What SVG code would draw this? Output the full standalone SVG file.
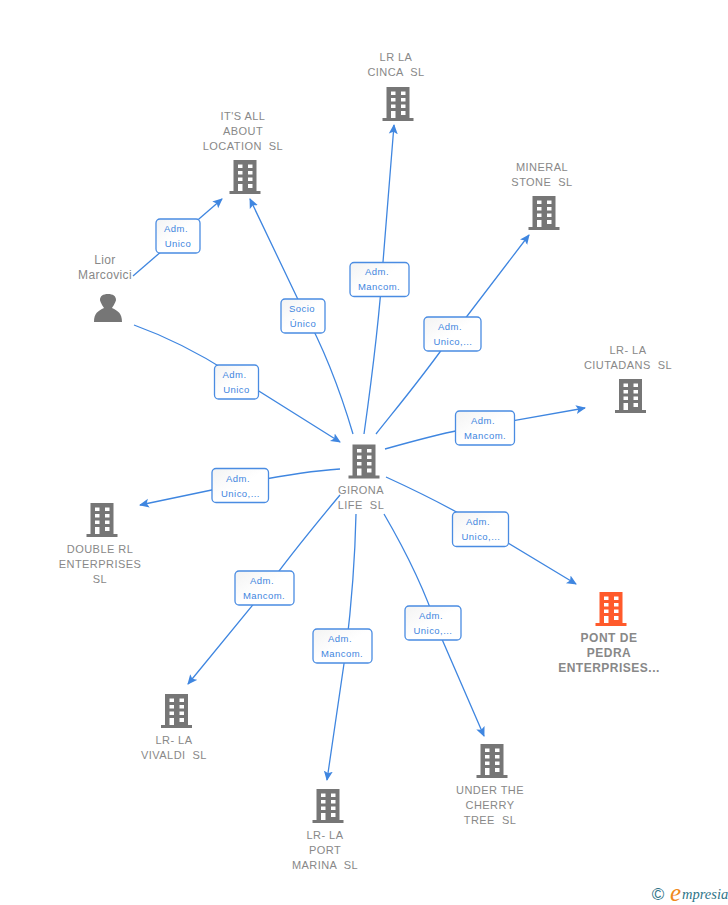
<svg xmlns="http://www.w3.org/2000/svg" width="728" height="905" viewBox="0 0 728 905">
<style>
.n{font-family:"Liberation Sans",Arial,sans-serif;font-size:11px;fill:#888;text-anchor:middle;letter-spacing:.45px;white-space:pre}
.b{font-weight:bold;font-size:12px;letter-spacing:.5px}
.p{font-size:12px;letter-spacing:.35px}
.l{font-family:"Liberation Sans",Arial,sans-serif;font-size:9.5px;fill:#3f86e0;text-anchor:middle;letter-spacing:.45px}
.r{fill:url(#g);stroke:#4a8ce2;stroke-width:1.3}
.c{fill:none;stroke:#3f86e0;stroke-width:1.3;marker-end:url(#a)}
</style>
<defs>
<linearGradient id="g" x1="0" y1="0" x2="1" y2="1"><stop offset="0" stop-color="#f3f3f3"/><stop offset=".5" stop-color="#fff"/></linearGradient>
<marker id="a" markerUnits="userSpaceOnUse" markerWidth="12" markerHeight="12" refX="9" refY="5" orient="auto"><path d="M0 0.500L10 5L0 9.500L2.200 5Z" fill="#3f86e0"/></marker>
<path id="bd" fill-rule="evenodd" d="M4 0H27V31H31V34H0V31H4ZM8.500 4.500V8H13V4.500ZM18.500 4.500V8H23V4.500ZM8.500 11V14.500H13V11ZM18.500 11V14.500H23V11ZM8.500 17.500V21H13V17.500ZM18.500 17.500V21H23V17.500ZM8.500 24V31H13V24ZM18.500 24V28H23V24Z"/>
</defs>
<g id="connectors">
<path class="c" d="M133 276L222 199"/>
<path class="c" d="M134 325C170 338 205 357 230 373L340 442"/>
<path class="c" d="M353 434C340 390 325 350 303 310L250 199"/>
<path class="c" d="M364 434C373 370 380 310 383 262L394 125"/>
<path class="c" d="M376 434C395 410 420 380 445 345L529 235"/>
<path class="c" d="M385 449C410 442 435 435 460 430L585 408"/>
<path class="c" d="M386 477C410 488 435 500 460 514L576 584"/>
<path class="c" d="M384 514C405 550 425 590 438 630L484 736"/>
<path class="c" d="M356 514C355 560 352 600 346 650L327 780"/>
<path class="c" d="M340 495C315 525 290 555 265 590L188 684"/>
<path class="c" d="M340 469C310 471 285 475 250 482L140 505"/>
</g>
<g id="edge-labels">
<g><rect class="r" x="156" y="219" width="44" height="34" rx="4"/><text class="l" x="176" y="232">Adm.</text><text class="l" x="178" y="247">Unico</text></g>
<g><rect class="r" x="214.500" y="365" width="44" height="34" rx="4"/><text class="l" x="234.500" y="378">Adm.</text><text class="l" x="236.500" y="393">Unico</text></g>
<g><rect class="r" x="281" y="299" width="44" height="34" rx="4"/><text class="l" x="302" y="312">Socio</text><text class="l" x="303" y="327">Único</text></g>
<g><rect class="r" x="350" y="262.500" width="59" height="34" rx="4"/><text class="l" x="377" y="275">Adm.</text><text class="l" x="379" y="290">Mancom.</text></g>
<g><rect class="r" x="424" y="317" width="57" height="34" rx="4"/><text class="l" x="450" y="330">Adm.</text><text class="l" x="453" y="345">Unico,...</text></g>
<g><rect class="r" x="455.500" y="411" width="59" height="34" rx="4"/><text class="l" x="483" y="424">Adm.</text><text class="l" x="485" y="439">Mancom.</text></g>
<g><rect class="r" x="452.500" y="512" width="56" height="34.500" rx="4"/><text class="l" x="478" y="525">Adm.</text><text class="l" x="481" y="540">Unico,...</text></g>
<g><rect class="r" x="405" y="606" width="56" height="34" rx="4"/><text class="l" x="431" y="619">Adm.</text><text class="l" x="433" y="634">Unico,...</text></g>
<g><rect class="r" x="313" y="629" width="59" height="34" rx="4"/><text class="l" x="340" y="642">Adm.</text><text class="l" x="342" y="657">Mancom.</text></g>
<g><rect class="r" x="235" y="571" width="59" height="34" rx="4"/><text class="l" x="262" y="584">Adm.</text><text class="l" x="264" y="599">Mancom.</text></g>
<g><rect class="r" x="212" y="468.500" width="56.500" height="34" rx="4"/><text class="l" x="238" y="482">Adm.</text><text class="l" x="240.500" y="497">Unico,...</text></g>
</g>
<g id="n-cinca"><use href="#bd" x="382.500" y="87" fill="#767676"/><text class="n" x="396" y="61">LR LA</text><text class="n" x="396" y="76">CINCA  SL</text></g>
<g id="n-itsall"><use href="#bd" x="229.500" y="160" fill="#767676"/><text class="n" x="243" y="120">IT'S ALL</text><text class="n" x="243" y="135">ABOUT</text><text class="n" x="243" y="150">LOCATION  SL</text></g>
<g id="n-mineral"><use href="#bd" x="528.500" y="196" fill="#767676"/><text class="n" x="542" y="171">MINERAL</text><text class="n" x="542" y="186">STONE  SL</text></g>
<g id="n-lior"><path fill="#767676" d="M94 322C94 313 98 311 104 308C102 305 100 301 100 300C100 296 103 294 108 294C113 294 116 296 116 300C116 301 114 305 112 308C118 311 122 313 122 322Z"/><text class="n p" x="105" y="264">Lior</text><text class="n p" x="105" y="279">Marcovici</text></g>
<g id="n-ciutadans"><use href="#bd" x="615" y="379" fill="#767676"/><text class="n" x="628" y="354">LR- LA</text><text class="n" x="628" y="369">CIUTADANS  SL</text></g>
<g id="n-girona"><use href="#bd" x="348.500" y="444.500" fill="#767676"/><text class="n" x="361" y="494">GIRONA</text><text class="n" x="361" y="509">LIFE  SL</text></g>
<g id="n-double"><use href="#bd" x="86.500" y="503" fill="#767676"/><text class="n" x="100" y="553">DOUBLE RL</text><text class="n" x="100" y="568">ENTERPRISES</text><text class="n" x="100" y="583">SL</text></g>
<g id="n-pont"><use href="#bd" x="595.500" y="592" fill="#ff5a2b"/><text class="n b" x="609" y="642">PONT DE</text><text class="n b" x="609" y="657">PEDRA</text><text class="n b" x="609" y="672">ENTERPRISES...</text></g>
<g id="n-vivaldi"><use href="#bd" x="161" y="694" fill="#767676"/><text class="n" x="174" y="744">LR- LA</text><text class="n" x="174" y="759">VIVALDI  SL</text></g>
<g id="n-under"><use href="#bd" x="476.500" y="744" fill="#767676"/><text class="n" x="490" y="794">UNDER THE</text><text class="n" x="490" y="809">CHERRY</text><text class="n" x="490" y="824">TREE  SL</text></g>
<g id="n-port"><use href="#bd" x="312.500" y="789" fill="#767676"/><text class="n" x="325" y="839">LR- LA</text><text class="n" x="325" y="854">PORT</text><text class="n" x="325" y="869">MARINA  SL</text></g>
<g id="logo"><text x="658" y="900" font-family="'Liberation Sans',sans-serif" font-size="17" fill="#2f7488" text-anchor="middle">©</text><text x="670" y="901" font-family="'Liberation Serif',serif" font-size="25" font-style="italic" fill="#f08a1d">e</text><text x="682" y="899" font-family="'Liberation Serif',serif" font-size="14.500" font-style="italic" fill="#2f7488">mpresia</text></g>
</svg>
